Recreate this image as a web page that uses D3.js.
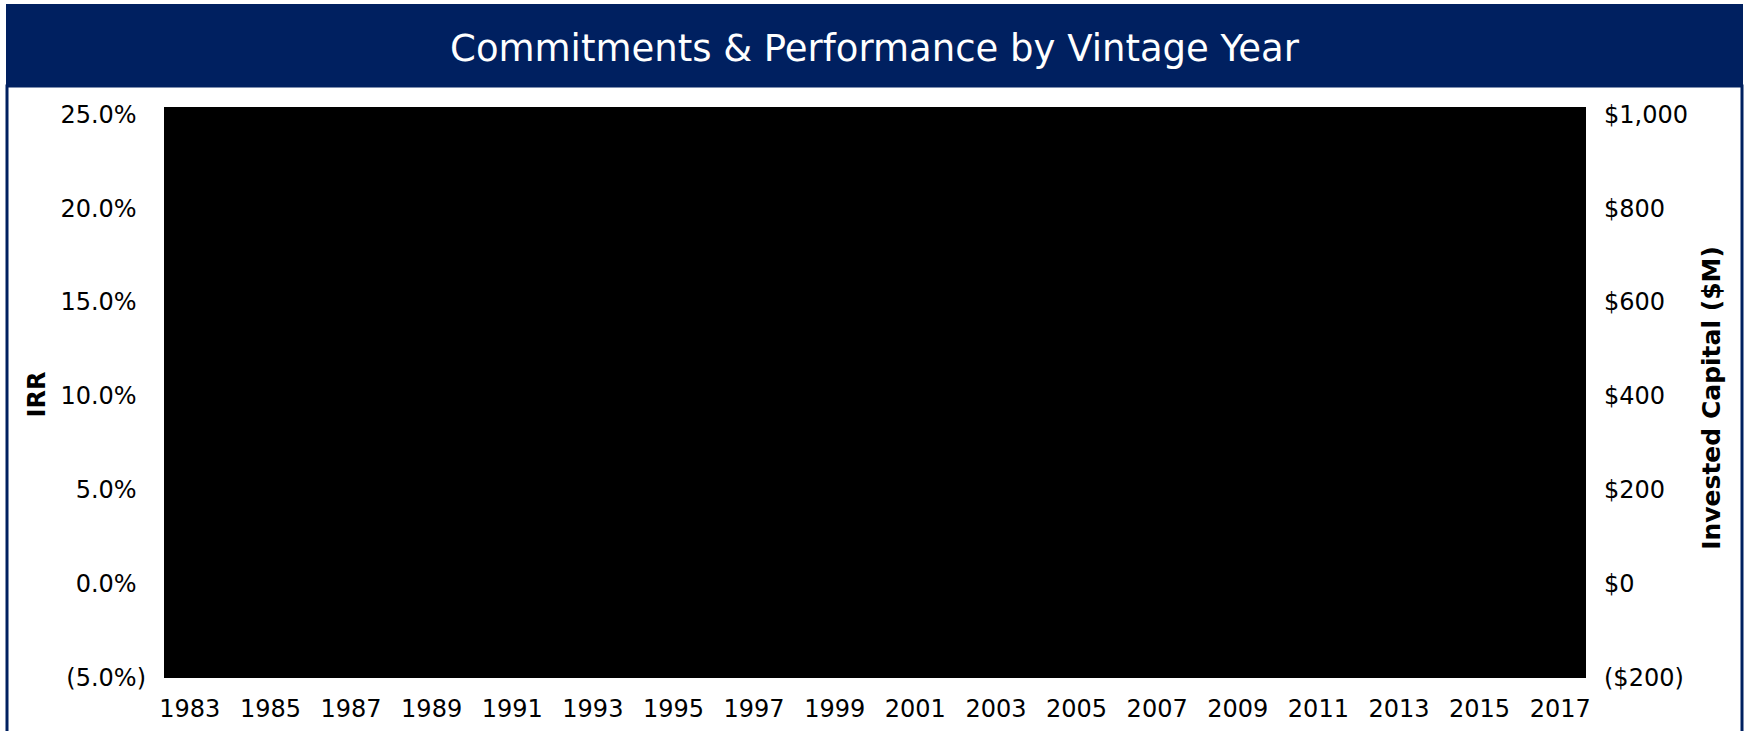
<!DOCTYPE html>
<html>
<head>
<meta charset="utf-8">
<script src="https://cdn.jsdelivr.net/npm/d3@7"></script>
<style>
  html, body { margin: 0; padding: 0; background: #fff; }
  svg { display: block; }
  .axis text { font-family: "DejaVu Sans", Verdana, sans-serif; font-size: 24px; fill: #000; }
</style>
</head>
<body>
<svg id="chart"></svg>
<script>
// vintage years on the category axis
const years = [1983, 1984, 1985, 1986, 1987, 1988, 1989, 1990, 1991, 1992, 1993, 1994,
  1995, 1996, 1997, 1998, 1999, 2000, 2001, 2002, 2003, 2004, 2005, 2006, 2007, 2008,
  2009, 2010, 2011, 2012, 2013, 2014, 2015, 2016, 2017];
const yearLabels = [1983, 1985, 1987, 1989, 1991, 1993, 1995, 1997, 1999, 2001, 2003,
  2005, 2007, 2009, 2011, 2013, 2015, 2017];
const irrTicks = [-5, 0, 5, 10, 15, 20, 25];
const capitalTicks = [-200, 0, 200, 400, 600, 800, 1000];

const width = 1746, height = 731;
const navy = "#002060";
const plot = { left: 164, right: 1586, top: 107, bottom: 678 };

const svg = d3.select("#chart")
  .attr("width", width)
  .attr("height", height);

// frame + title bar
svg.append("rect")
  .attr("x", 7).attr("y", 86)
  .attr("width", 1735).attr("height", 700)
  .attr("fill", "none")
  .attr("stroke", navy)
  .attr("stroke-width", 3);

svg.append("rect")
  .attr("x", 6).attr("y", 4)
  .attr("width", 1737).attr("height", 83)
  .attr("fill", navy);

svg.append("text")
  .attr("x", 874.5)
  .attr("y", 61)
  .attr("text-anchor", "middle")
  .attr("font-family", "DejaVu Sans, Verdana, sans-serif")
  .attr("font-size", 37)
  .attr("fill", "#fff")
  .text("Commitments & Performance by Vintage Year");

// scales
const x = d3.scaleBand()
  .domain(years)
  .range([plot.left, plot.right])
  .paddingOuter(0.14);

const yIrr = d3.scaleLinear()
  .domain([-5, 25])
  .range([677.5, 114.5]);

const yCap = d3.scaleLinear()
  .domain([-200, 1000])
  .range([677.5, 114.5]);

// plot area
svg.append("rect")
  .attr("class", "plot-bg")
  .attr("x", plot.left)
  .attr("y", plot.top)
  .attr("width", plot.right - plot.left)
  .attr("height", plot.bottom - plot.top)
  .attr("fill", "#000");

const fmtPct = d => d < 0 ? `(${Math.abs(d).toFixed(1)}%)` : `${d.toFixed(1)}%`;
const fmtCap = d => d < 0 ? `($${d3.format(",")(Math.abs(d))})` : `$${d3.format(",")(d)}`;

const leftAxis = svg.append("g")
  .attr("class", "axis")
  .attr("transform", `translate(${plot.left},0)`)
  .call(d3.axisLeft(yIrr).tickValues(irrTicks).tickFormat(fmtPct).tickSize(0).tickPadding(18));
leftAxis.select(".domain").remove();
leftAxis.selectAll("text")
  .attr("dx", d => d < 0 ? 0 : "-0.39em");

const rightAxis = svg.append("g")
  .attr("class", "axis")
  .attr("transform", `translate(${plot.right},0)`)
  .call(d3.axisRight(yCap).tickValues(capitalTicks).tickFormat(fmtCap).tickSize(0).tickPadding(18));
rightAxis.select(".domain").remove();

const bottomAxis = svg.append("g")
  .attr("class", "axis")
  .attr("transform", `translate(0,${plot.bottom})`)
  .call(d3.axisBottom(x).tickValues(yearLabels).tickSize(0).tickPadding(22));
bottomAxis.select(".domain").remove();

// axis titles
svg.append("text")
  .attr("transform", "translate(45,394.5) rotate(-90)")
  .attr("text-anchor", "middle")
  .attr("font-family", "DejaVu Sans, Verdana, sans-serif")
  .attr("font-weight", "bold")
  .attr("font-size", 24)
  .text("IRR");

svg.append("text")
  .attr("transform", "translate(1720,398) rotate(-90)")
  .attr("text-anchor", "middle")
  .attr("font-family", "DejaVu Sans, Verdana, sans-serif")
  .attr("font-weight", "bold")
  .attr("font-size", 25)
  .attr("xml:space", "preserve")
  .text("Invested Capital ($M)");
</script>
</body>
</html>
